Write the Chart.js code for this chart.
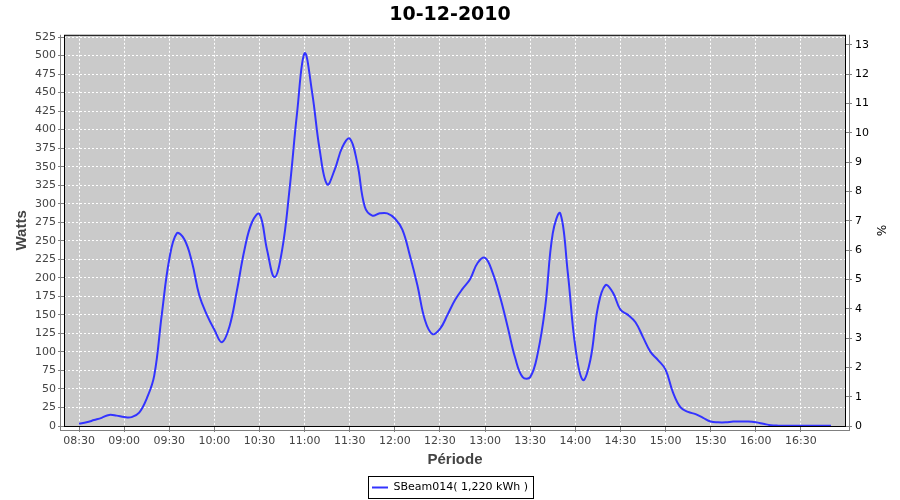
<!DOCTYPE html>
<html>
<head>
<meta charset="utf-8">
<script src="https://cdn.jsdelivr.net/npm/chart.js@4.4.0/dist/chart.umd.min.js"></script>
<style>
  html, body { margin: 0; padding: 0; background: #fff; }
</style>
</head>
<body>
<canvas id="chart" width="900" height="500"></canvas>
<script>
// readings every 5 minutes
const times = [
  '08:30','08:35','08:40','08:45','08:50','08:55',
  '09:00','09:05','09:10','09:15','09:20','09:25','09:30','09:35','09:40','09:45','09:50','09:55',
  '10:00','10:05','10:10','10:15','10:20','10:25','10:30','10:35','10:40','10:45','10:50','10:55',
  '11:00','11:05','11:10','11:15','11:20','11:25','11:30','11:35','11:40','11:45','11:50','11:55',
  '12:00','12:05','12:10','12:15','12:20','12:25','12:30','12:35','12:40','12:45','12:50','12:55',
  '13:00','13:05','13:10','13:15','13:20','13:25','13:30','13:35','13:40','13:45','13:50','13:55',
  '14:00','14:05','14:10','14:15','14:20','14:25','14:30','14:35','14:40','14:45','14:50','14:55',
  '15:00','15:05','15:10','15:15','15:20','15:25','15:30','15:35','15:40','15:45','15:50','15:55',
  '16:00','16:05','16:10','16:15','16:20','16:25','16:30','16:35','16:40','16:45','16:50'
];
const watts = [
  3, 5, 8, 11, 15, 14,
  12, 12, 18, 37, 68, 150, 225, 260, 252, 222, 176, 150,
  130, 113, 134, 183, 238, 275, 286, 238, 201, 237, 320, 423,
  503, 450, 373, 326, 346, 376, 388, 355, 296, 284, 287, 287,
  280, 265, 230, 190, 143, 124, 131, 150, 170, 185, 198, 220,
  227, 207, 174, 134, 92, 66, 66, 98, 161, 260, 287, 207,
  107, 62, 89, 160, 190, 180, 157, 150, 140, 120, 100, 89,
  76, 45, 25, 19, 16, 11, 6, 5, 5, 6, 6, 6,
  5, 3, 1, 0.5, 0.5, 0.5, 0.5, 0.5, 0.5, 0.5, 0.5
];
const timeTicks = ['08:30','09:00','09:30','10:00','10:30','11:00','11:30','12:00','12:30',
  '13:00','13:30','14:00','14:30','15:00','15:30','16:00','16:30'];
const seriesLabel = 'SBeam014( 1,220 kWh )';

const toMin = s => parseInt(s.slice(0, 2), 10) * 60 + parseInt(s.slice(3), 10);
const fmt = m => String(Math.floor(m / 60)).padStart(2, '0') + ':' + String(m % 60).padStart(2, '0');

const tickFont = { family: 'DejaVu Sans', size: 11 };
const axisTitleFont = { family: 'Liberation Sans', size: 15, weight: 'bold' };

// plot background, frame, offset axis lines and legend box
const frame = {
  id: 'frame',
  beforeDraw(chart) {
    const { ctx, chartArea: a } = chart;
    ctx.save();
    ctx.fillStyle = '#cacaca';
    ctx.fillRect(a.left, a.top, a.right - a.left, a.bottom - a.top);
    ctx.restore();
  },
  afterDraw(chart) {
    const { ctx, chartArea: a } = chart;
    ctx.save();
    ctx.strokeStyle = '#000';
    ctx.lineWidth = 1;
    ctx.strokeRect(a.left + 0.5, a.top + 0.5, a.right - a.left - 1, a.bottom - a.top);
    ctx.strokeStyle = '#808080';
    ctx.beginPath();
    ctx.moveTo(a.left - 3.5, a.top); ctx.lineTo(a.left - 3.5, a.bottom + 4);
    ctx.moveTo(a.left - 4, a.bottom + 4.5); ctx.lineTo(a.right + 4, a.bottom + 4.5);
    ctx.moveTo(a.right + 3.5, a.top); ctx.lineTo(a.right + 3.5, a.bottom + 4);
    ctx.stroke();
    const hb = chart.legend.legendHitBoxes[0];
    if (hb) {
      ctx.strokeStyle = '#000';
      ctx.strokeRect(Math.round(hb.left) - 3.5, Math.round(hb.top) - 5.5, Math.round(hb.width) + 9, Math.round(hb.height) + 11);
    }
    ctx.restore();
  }
};

new Chart(document.getElementById('chart'), {
  type: 'line',
  data: {
    datasets: [{
      label: seriesLabel,
      data: times.map((t, i) => ({ x: toMin(t), y: watts[i] })),
      borderColor: '#3333ff',
      backgroundColor: '#3333ff',
      borderWidth: 2,
      pointRadius: 0,
      tension: 0.4,
      fill: false,
      yAxisID: 'y'
    }]
  },
  options: {
    responsive: false,
    animation: false,
    layout: { padding: { left: 0, right: 0, top: 0, bottom: -3 } },
    plugins: {
      title: {
        display: true,
        text: '10-12-2010',
        color: '#000',
        font: { family: 'DejaVu Sans', size: 19, weight: 'bold' },
        padding: { top: 4, bottom: 8 }
      },
      legend: {
        position: 'bottom',
        labels: {
          color: '#000',
          font: { family: 'DejaVu Sans', size: 11 },
          usePointStyle: true,
          pointStyle: 'line',
          pointStyleWidth: 16,
          boxHeight: 11,
          padding: 3
        }
      },
      tooltip: { enabled: false }
    },
    scales: {
      x: {
        type: 'linear',
        min: toMin('08:20'),
        max: toMin('17:00'),
        afterBuildTicks: s => { s.ticks = timeTicks.map(t => ({ value: toMin(t) })); },
        afterFit: s => { s.height = 53; },
        ticks: { color: '#444', font: tickFont, padding: 3, maxRotation: 0, callback: v => fmt(v) },
        grid: { color: '#ffffff', lineWidth: 1, tickLength: 6, tickColor: '#808080' },
        border: { display: false, dash: [2, 2] },
        title: { display: true, text: 'Période', color: '#444', font: axisTitleFont, padding: { top: 0, bottom: 10 } }
      },
      y: {
        position: 'left',
        min: 0,
        max: 528,
        afterFit: s => { s.width = 64; },
        ticks: { stepSize: 25, includeBounds: false, color: '#444', font: tickFont, padding: 2 },
        grid: { color: '#ffffff', lineWidth: 1, tickLength: 6, tickColor: '#808080' },
        border: { display: false, dash: [2, 2] },
        title: { display: true, text: 'Watts', color: '#444', font: axisTitleFont, padding: { top: 13, bottom: 0 } }
      },
      y1: {
        position: 'right',
        min: 0,
        max: 13.34,
        afterFit: s => { s.width = 54; },
        ticks: { stepSize: 1, includeBounds: false, color: '#000', font: tickFont, padding: 3 },
        grid: { drawOnChartArea: false, tickLength: 6, tickColor: '#808080' },
        border: { display: false },
        title: { display: true, text: '%', color: '#000', font: { family: 'DejaVu Sans', size: 12 }, padding: { top: 13, bottom: 0 } }
      }
    }
  },
  plugins: [frame]
});
</script>
</body>
</html>
